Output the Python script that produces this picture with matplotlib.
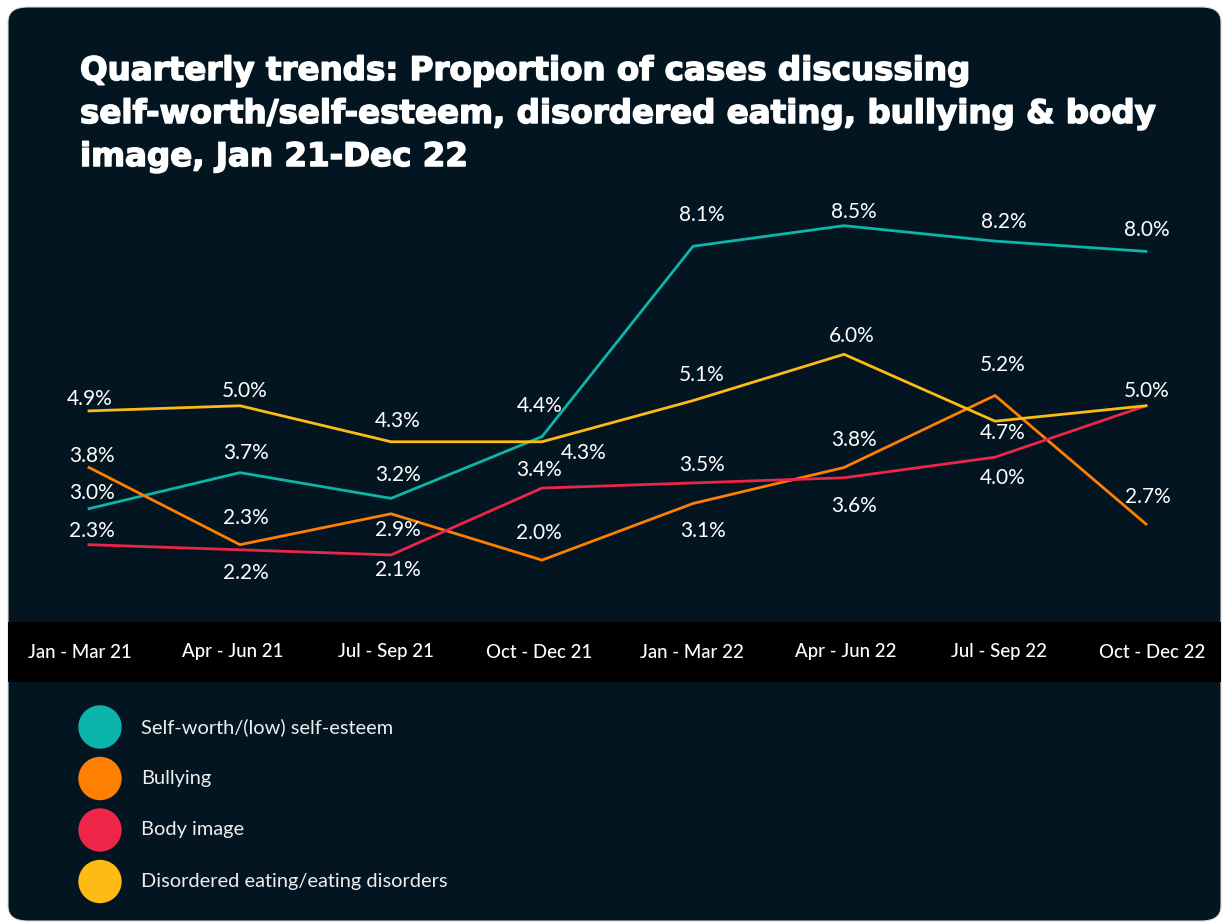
import matplotlib
matplotlib.use("Agg")
import matplotlib.pyplot as plt
import matplotlib.patheffects as pe
from matplotlib.patches import FancyBboxPatch, Circle

plt.rcParams['font.family'] = ['Lato', 'DejaVu Sans']

quarters = ["Jan - Mar 21", "Apr - Jun 21", "Jul - Sep 21", "Oct - Dec 21",
            "Jan - Mar 22", "Apr - Jun 22", "Jul - Sep 22", "Oct - Dec 22"]

series_names = ["Self-worth/(low) self-esteem", "Bullying", "Body image",
                "Disordered eating/eating disorders"]
self_worth = [3.0, 3.7, 3.2, 4.4, 8.1, 8.5, 8.2, 8.0]
bullying = [3.8, 2.3, 2.9, 2.0, 3.1, 3.8, 5.2, 2.7]
body_image = [2.3, 2.2, 2.1, 3.4, 3.5, 3.6, 4.0, 5.0]
eating = [4.9, 5.0, 4.3, 4.3, 5.1, 6.0, 4.7, 5.0]

title_lines = ["Quarterly trends: Proportion of cases discussing",
               "self-worth/self-esteem, disordered eating, bullying & body",
               "image, Jan 21-Dec 22"]

colors = ["#0bb5aa", "#ff7f00", "#ec2549", "#fdbb13"]
BG = "#031521"

# label offsets (dx, dy) in pixels relative to each point; None = no label
label_offsets = [
    [(3, 16), (6, 20), (7, 23), (-2, 31), (9, 31), (10, 14), (9, 19), (1, 21)],
    [(3, 11), (6, 27), (7, -16), (-3, 27), (10, -27), (10, 27), (8, 30), (2, 27)],
    [(3, 14), (6, -23), (7, -15), (-3, 18), (9, 18), (10, -28), (8, -21), None],
    [(1, 12), (5, 15), (7, 21), (42, -11), (9, 26), (8, 18), (8, -12), (1, 15)],
]

W, H = 1223, 923
fig = plt.figure(figsize=(W / 100, H / 100), dpi=100, facecolor="white")

def fx(px):
    return px / W

def fy(py):
    return 1 - py / H

# rounded dark panel
panel = FancyBboxPatch((fx(8), fy(921)), fx(1221) - fx(8), fy(7) - fy(921),
                       boxstyle="round,pad=0,rounding_size=0.016",
                       transform=fig.transFigure, facecolor=BG,
                       edgecolor="#d8d8d8", linewidth=0.8, zorder=-5)
fig.patches.append(panel)

# title, one baseline per line
for n, line in enumerate(title_lines):
    fig.text(fx(80), fy(80 + 43 * n), line, ha="left", va="baseline",
             color="white", fontsize=23.4, fontweight="bold",
             family="DejaVu Sans",
             path_effects=[pe.withStroke(linewidth=1.1, foreground="white")])

# main line axes
x_left, x_right = 8, 1221
ax = fig.add_axes([fx(x_left), fy(622), fx(x_right) - fx(x_left), fy(190) - fy(622)])
ax.set_facecolor("none")
ax.set_zorder(2)
x0, step = 89, 151
ax.set_xlim((x_left - x0) / step, (x_right - x0) / step)
y_zero, per_unit = 663, 51.45
ax.set_ylim((y_zero - 622) / per_unit, (y_zero - 190) / per_unit)
ax.axis("off")

xs = list(range(len(quarters)))
all_series = [self_worth, bullying, body_image, eating]
draw_order = [2, 1, 0, 3]
for i in draw_order:
    vals = all_series[i]
    ax.plot(xs, vals, color=colors[i], lw=2.0, solid_joinstyle="miter", zorder=2 + i)

for i, vals in enumerate(all_series):
    for j, v in enumerate(vals):
        off = label_offsets[i][j]
        if off is None:
            continue
        ax.annotate(f"{v:.1f}%", (j, v), xytext=off, textcoords="offset pixels",
                    ha="center", va="center", color="white", fontsize=15,
                    zorder=10)

# category band
band = fig.add_axes([fx(x_left), fy(682), fx(x_right) - fx(x_left), fy(622) - fy(682)])
band.set_facecolor("black")
band.set_zorder(1)
band.set_xlim(ax.get_xlim())
band.set_ylim(0, 1)
for s in band.spines.values():
    s.set_visible(False)
band.set_xticks([])
band.set_yticks([])
tick_x0, tick_step = 80, 153.1
for j, q in enumerate(quarters):
    band.text((tick_x0 + tick_step * j - x0) / step, 0.5, q, ha="center",
              va="center", color="white", fontsize=13.4, fontweight="medium")

# legend
for k, name in enumerate(series_names):
    cy = 727 + k * 51.5
    fig.patches.append(Circle((100, H - cy), 21.7, transform=None,
                              facecolor=colors[k], edgecolor="none"))
    fig.text(fx(141), fy(cy), name, ha="left", va="center", color="#eeeeee",
             fontsize=14.4)

fig.savefig("out.png", dpi=100, facecolor="white")
